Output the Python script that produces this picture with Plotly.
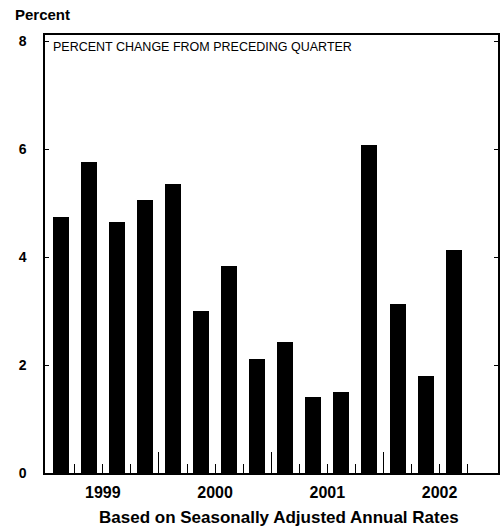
import plotly.graph_objects as go

quarters = ["1999Q1", "1999Q2", "1999Q3", "1999Q4",
            "2000Q1", "2000Q2", "2000Q3", "2000Q4",
            "2001Q1", "2001Q2", "2001Q3", "2001Q4",
            "2002Q1", "2002Q2", "2002Q3"]
values = [4.75, 5.76, 4.66, 5.06, 5.35, 3.01, 3.83, 2.12,
          2.42, 1.41, 1.50, 6.07, 3.13, 1.80, 4.14]
year_labels = ["1999", "2000", "2001", "2002"]
n_slots = 16  # 4 years x 4 quarters (2002Q4 empty)

x_idx = list(range(len(values)))
year_centers = [4 * i + 1.5 for i in range(len(year_labels))]
year_bounds = [4 * i - 0.5 for i in range(1, len(year_labels))]
quarter_bounds = [i + 0.5 for i in range(n_slots - 1)]

FONT = "Liberation Sans, Arial, Helvetica, sans-serif"

fig = go.Figure()
fig.add_trace(go.Bar(x=x_idx, y=values, marker=dict(color="black", line=dict(width=0)),
                     width=0.57, hovertext=quarters, showlegend=False))
fig.add_trace(go.Scatter(x=[None], y=[None], xaxis="x2", showlegend=False, hoverinfo="skip"))

xr = [-0.56, 15.58]
fig.update_layout(
    width=504, height=529,
    margin=dict(l=45, r=4, t=35, b=56),
    paper_bgcolor="white", plot_bgcolor="white",
    font=dict(family=FONT, color="black"),
    bargap=0,
    xaxis=dict(range=xr, tickmode="array", tickvals=year_centers, ticktext=year_labels,
               ticks="", showgrid=False, zeroline=False,
               showline=True, linecolor="black", linewidth=1.5, mirror=True,
               tickfont=dict(size=16, family=FONT, weight="bold"),
               ticklabelstandoff=4,
               minor=dict(tickmode="array", tickvals=quarter_bounds, ticks="inside",
                          ticklen=9, tickcolor="black", tickwidth=1, showgrid=False)),
    xaxis2=dict(range=xr, overlaying="x", side="bottom", tickmode="array",
                tickvals=year_bounds, ticks="inside", ticklen=21, tickcolor="black",
                tickwidth=1, showticklabels=False, showgrid=False, zeroline=False,
                showline=False),
    yaxis=dict(range=[0, 8.117], tickmode="linear", tick0=0, dtick=2,
               ticks="inside", ticklen=4, tickcolor="black", showgrid=False,
               zeroline=False, showline=True, linecolor="black", linewidth=1.5,
               mirror="ticks",
               tickfont=dict(size=14, family=FONT, weight="bold"),
               ticklabelstandoff=14),
    annotations=[
        dict(text="Percent", xref="paper", yref="paper", x=-0.0703, y=1.0457,
             xanchor="left", yanchor="middle", showarrow=False,
             font=dict(size=15, family=FONT, weight="bold")),
        dict(text="PERCENT CHANGE FROM PRECEDING QUARTER", xref="paper", yref="paper",
             x=0.0132, y=0.9726, xanchor="left", yanchor="middle", showarrow=False,
             font=dict(size=12.5, family=FONT)),
        dict(text="Based on Seasonally Adjusted Annual Rates", xref="paper", yref="paper",
             x=0.516, y=-0.1027, xanchor="center", yanchor="middle", showarrow=False,
             font=dict(size=17, family=FONT, weight="bold")),
    ],
)

fig.write_html("out.html", config={"displayModeBar": False},
               post_script="document.body.style.margin='0';document.body.style.overflow='hidden';")
